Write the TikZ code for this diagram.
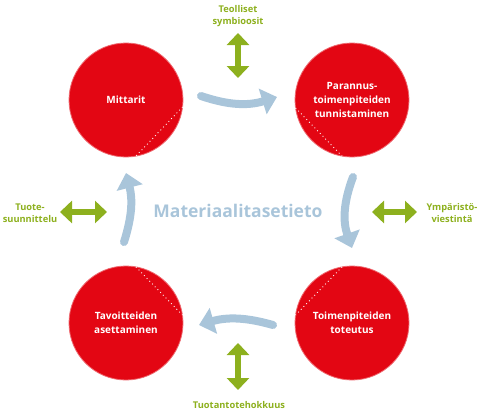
\documentclass[tikz,border=0pt]{standalone}
\usepackage{fontspec}
\setmainfont{Open Sans}
\usetikzlibrary{arrows.meta,calc}
\definecolor{punainen}{HTML}{E30613}
\definecolor{vihrea}{HTML}{8DB01E}
\definecolor{sininen}{HTML}{A9C5DA}
\begin{document}
\begin{tikzpicture}[x=1pt,y=-1pt,
  ympyra/.style={circle,fill=punainen,draw=punainen!60!white,line width=.8pt,minimum size=114pt,inner sep=0pt,
    text=white,align=center,font=\bfseries\fontsize{10}{14}\selectfont},
  vlabel/.style={text=vihrea,align=center,inner sep=0pt,font=\bfseries\fontsize{9.3}{12.5}\selectfont},
  kaksoisnuoli/.style={draw=vihrea,line width=6pt,{Triangle[width=22pt,length=12pt]}-{Triangle[width=22pt,length=12pt]}},
  kierto/.style={draw=sininen,line width=8pt,line cap=round,-{Triangle[width=26pt,length=15pt]}},
  pisteet/.style={white,line width=.9pt,dash pattern=on .9pt off 3pt}]
\path[use as bounding box] (0,0) rectangle (490,415);
% vaiheet
\node[ympyra] (mit) at (126,100) {Mittarit};
\node[ympyra] (par) at (352,100) {Parannus-\\toimenpiteiden\\tunnistaminen};
\node[ympyra] (tav) at (126,323) {Tavoitteiden\\asettaminen};
\node[ympyra] (tot) at (352,323) {Toimenpiteiden\\toteutus};
% pisteviivat
\draw[pisteet] ($(mit)+(7:57)$) -- ($(mit)+(80:57)$);
\draw[pisteet] ($(par)+(172:57)$) -- ($(par)+(100:57)$);
\draw[pisteet] ($(tav)+(-80:57)$) -- ($(tav)+(-8:57)$);
\draw[pisteet] ($(tot)+(-100:57)$) -- ($(tot)+(-172:57)$);
% kierto
\node[text=sininen,font=\bfseries\fontsize{17.5}{20}\selectfont] (mat) at (238,211) {Materiaalitasetieto};
\coordinate (k1a) at (201,96);  \coordinate (k1b) at (277,97);
\coordinate (k2a) at (353,177); \coordinate (k2b) at (352,248);
\coordinate (k3a) at (273,325); \coordinate (k3b) at (199,325);
\coordinate (k4a) at (124,242); \coordinate (k4b) at (126,173);
\draw[kierto] (k1a) to[bend right=18] (k1b);
\draw[kierto] (k2a) to[bend right=20] (k2b);
\draw[kierto] (k3a) to[bend right=16] (k3b);
\draw[kierto] (k4a) to[bend right=16] (k4b);
% liittymat
\node[vlabel] (teo) at (238,16) {Teolliset\\symbioosit};
\node[vlabel] (tuo) at (30,213) {Tuote-\\suunnittelu};
\node[vlabel] (ymp) at (452,213) {Ympäristö-\\viestintä};
\node[vlabel] (teh) at (239,405) {Tuotantotehokkuus};
\coordinate (v1a) at (238,33);  \coordinate (v1b) at (238,78);
\coordinate (v2a) at (238,343); \coordinate (v2b) at (238,390);
\coordinate (v3a) at (60,212);  \coordinate (v3b) at (107,212);
\coordinate (v4a) at (372,212); \coordinate (v4b) at (417,212);
\draw[kaksoisnuoli] (v1a) -- (v1b);
\draw[kaksoisnuoli] (v2a) -- (v2b);
\draw[kaksoisnuoli] (v3a) -- (v3b);
\draw[kaksoisnuoli] (v4a) -- (v4b);
\end{tikzpicture}
\end{document}
